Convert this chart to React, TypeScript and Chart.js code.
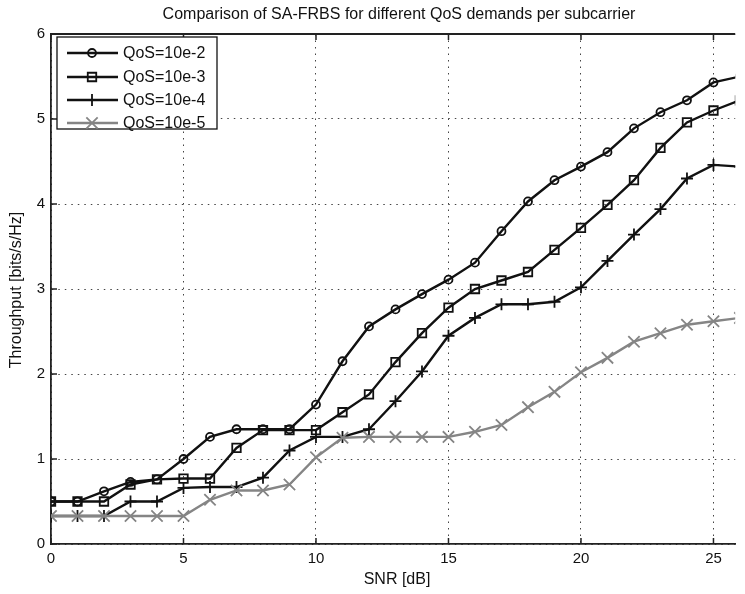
import React, { useEffect, useRef } from "react";
import { Chart, registerables } from "chart.js";

Chart.register(...registerables);

const snr = [0, 1, 2, 3, 4, 5, 6, 7, 8, 9, 10, 11, 12, 13, 14, 15, 16, 17, 18, 19, 20, 21, 22, 23, 24, 25, 26];
const qos2 = [0.5, 0.5, 0.62, 0.73, 0.76, 1.0, 1.26, 1.35, 1.35, 1.35, 1.64, 2.15, 2.56, 2.76, 2.94, 3.11, 3.31, 3.68, 4.03, 4.28, 4.44, 4.61, 4.89, 5.08, 5.22, 5.43, 5.5];
const qos3 = [0.5, 0.5, 0.5, 0.7, 0.76, 0.77, 0.77, 1.13, 1.34, 1.34, 1.34, 1.55, 1.76, 2.14, 2.48, 2.78, 3.0, 3.1, 3.2, 3.46, 3.72, 3.99, 4.28, 4.66, 4.96, 5.1, 5.22];
const qos4 = [0.33, 0.33, 0.33, 0.5, 0.5, 0.66, 0.67, 0.67, 0.78, 1.1, 1.26, 1.26, 1.35, 1.68, 2.03, 2.45, 2.66, 2.82, 2.82, 2.85, 3.02, 3.33, 3.64, 3.94, 4.3, 4.46, 4.44];
const qos5 = [0.33, 0.33, 0.33, 0.33, 0.33, 0.33, 0.52, 0.63, 0.63, 0.7, 1.02, 1.25, 1.26, 1.26, 1.26, 1.26, 1.32, 1.4, 1.61, 1.79, 2.02, 2.19, 2.38, 2.48, 2.58, 2.62, 2.66];

const seriesLabels = ["QoS=10e-2", "QoS=10e-3", "QoS=10e-4", "QoS=10e-5"];
const xTicks = [0, 5, 10, 15, 20, 25];
const yTicks = [0, 1, 2, 3, 4, 5, 6];
const titleText = "Comparison of SA-FRBS for different QoS demands per subcarrier";
const xTitle = "SNR [dB]";
const yTitle = "Throughput [bits/s/Hz]";

const FONT = "'Liberation Sans', Arial, sans-serif";

export default function App() {
  const ref = useRef<HTMLCanvasElement>(null);

  useEffect(() => {
    document.body.style.margin = "0";
    const canvas = ref.current!;
    const mk = (vals: number[]) => snr.map((x, i) => ({ x, y: vals[i] }));
    const styles = [
      { color: "#111", pointStyle: "circle", radius: 4 },
      { color: "#111", pointStyle: "rect", radius: 6 },
      { color: "#111", pointStyle: "cross", radius: 6 },
      { color: "#858585", pointStyle: "crossRot", radius: 8 },
    ];
    const allVals = [qos2, qos3, qos4, qos5];

    function drawMarker(ctx: any, style: string, r: number, x: number, y: number, color: string) {
      ctx.save();
      ctx.strokeStyle = color;
      ctx.lineWidth = 1.8;
      ctx.beginPath();
      if (style === "circle") {
        ctx.arc(x, y, r, 0, Math.PI * 2);
      } else if (style === "rect") {
        const s = r * Math.SQRT1_2;
        ctx.rect(x - s, y - s, 2 * s, 2 * s);
      } else if (style === "cross") {
        ctx.moveTo(x, y - r);
        ctx.lineTo(x, y + r);
        ctx.moveTo(x - r, y);
        ctx.lineTo(x + r, y);
      } else {
        const d = r * Math.SQRT1_2;
        ctx.moveTo(x - d, y - d);
        ctx.lineTo(x + d, y + d);
        ctx.moveTo(x - d, y + d);
        ctx.lineTo(x + d, y - d);
      }
      ctx.stroke();
      ctx.restore();
    }

    const decor = {
      id: "decor",
      afterDraw(chart: any) {
        const ctx = chart.ctx;
        const a = chart.chartArea;
        const xs = chart.scales.x;
        const ys = chart.scales.y;
        ctx.save();
        ctx.strokeStyle = "#222";
        ctx.lineWidth = 1.8;
        ctx.beginPath();
        ctx.moveTo(a.left, a.top);
        ctx.lineTo(a.right, a.top);
        ctx.stroke();
        ctx.lineWidth = 1.5;
        ctx.beginPath();
        xTicks.forEach((v) => {
          const px = xs.getPixelForValue(v);
          ctx.moveTo(px, a.bottom);
          ctx.lineTo(px, a.bottom - 6);
          ctx.moveTo(px, a.top);
          ctx.lineTo(px, a.top + 6);
        });
        yTicks.forEach((v) => {
          const py = ys.getPixelForValue(v);
          ctx.moveTo(a.left, py);
          ctx.lineTo(a.left + 6, py);
        });
        ctx.stroke();

        ctx.fillStyle = "#111";
        ctx.textAlign = "center";
        ctx.textBaseline = "middle";
        ctx.font = `16px ${FONT}`;
        ctx.fillText(titleText, 399, 15);
        ctx.fillText(xTitle, 397, 580);
        ctx.save();
        ctx.translate(17, 290);
        ctx.rotate(-Math.PI / 2);
        ctx.fillText(yTitle, 0, 0);
        ctx.restore();

        const lx = 57, ly = 37, lw = 160, lh = 92;
        ctx.fillStyle = "#fff";
        ctx.fillRect(lx, ly, lw, lh);
        ctx.strokeStyle = "#111";
        ctx.lineWidth = 1.3;
        ctx.strokeRect(lx, ly, lw, lh);
        const rows = [53, 77, 100, 123];
        seriesLabels.forEach((lab, i) => {
          const st = styles[i];
          const y = rows[i];
          ctx.strokeStyle = st.color;
          ctx.lineWidth = 2.4;
          ctx.beginPath();
          ctx.moveTo(67, y);
          ctx.lineTo(118, y);
          ctx.stroke();
          drawMarker(ctx, st.pointStyle, st.radius, 92, y, st.color);
          ctx.fillStyle = "#111";
          ctx.textAlign = "left";
          ctx.textBaseline = "middle";
          ctx.font = `16px ${FONT}`;
          ctx.fillText(lab, 123, y + 1);
        });
        ctx.restore();
      },
    };

    const chart = new Chart(canvas, {
      type: "line",
      data: {
        datasets: allVals
          .map((vals, i) => ({
            label: seriesLabels[i],
            data: mk(vals),
            borderColor: styles[i].color,
            backgroundColor: "transparent",
            borderWidth: 2.4,
            pointStyle: styles[i].pointStyle as any,
            pointRadius: styles[i].radius,
            pointBorderWidth: 1.8,
            pointBorderColor: styles[i].color,
            pointBackgroundColor: "transparent",
            tension: 0,
          }))
          .reverse(),
      },
      options: {
        responsive: false,
        animation: false,
        layout: { padding: { top: 34, left: 0, right: 0, bottom: 0 } },
        plugins: {
          legend: { display: false },
          title: { display: false },
          tooltip: { enabled: false },
        },
        scales: {
          x: {
            type: "linear",
            min: 0,
            max: 25.82,
            afterBuildTicks: (s: any) => {
              s.ticks = xTicks.map((v) => ({ value: v }));
            },
            afterFit: (s: any) => {
              s.height = 50;
            },
            grid: { color: "#444", lineWidth: 1, drawTicks: false },
            border: { display: true, color: "#222", width: 1.8, dash: [1.5, 5] },
            ticks: {
              color: "#111",
              padding: 6,
              maxRotation: 0,
              font: { family: FONT, size: 15 },
              callback: (v: any) => String(v),
            },
          },
          y: {
            type: "linear",
            min: 0,
            max: 6,
            afterBuildTicks: (s: any) => {
              s.ticks = yTicks.map((v) => ({ value: v }));
            },
            afterFit: (s: any) => {
              s.width = 51;
            },
            grid: { color: "#444", lineWidth: 1, drawTicks: false },
            border: { display: true, color: "#222", width: 1.8, dash: [1.5, 5] },
            ticks: {
              color: "#111",
              padding: 6,
              font: { family: FONT, size: 15 },
              callback: (v: any) => String(v),
            },
          },
        },
      },
      plugins: [decor],
    });
    return () => chart.destroy();
  }, []);

  return (
    <div style={{ width: 745, height: 594 }}>
      <canvas ref={ref} width={745} height={594} style={{ display: "block" }} />
    </div>
  );
}
